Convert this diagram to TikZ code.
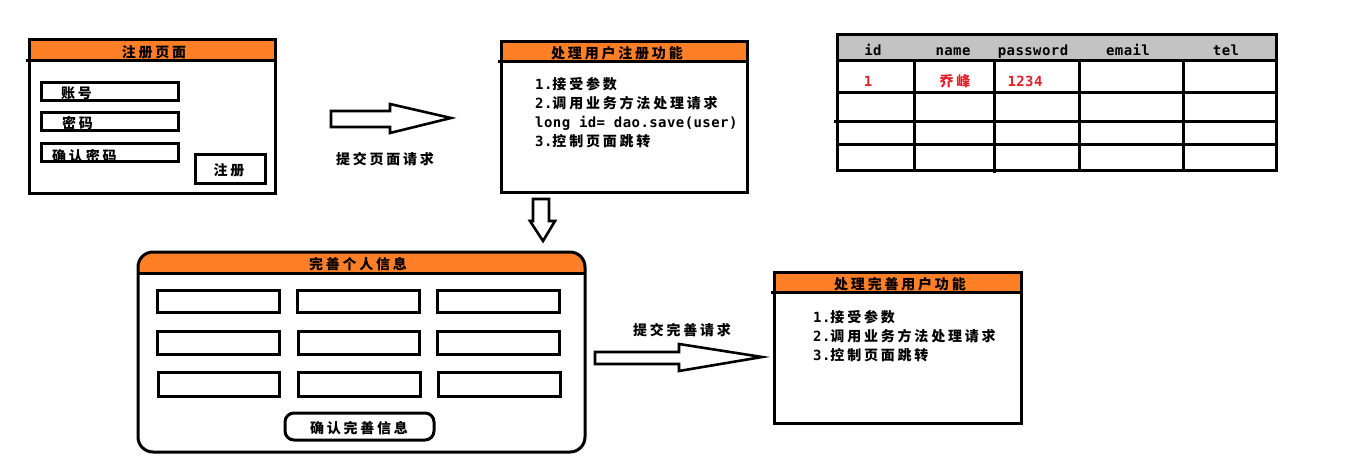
\documentclass[tikz,border=0pt]{standalone}
\usepackage{fontspec}
\setmainfont{Liberation Sans}
\newfontfamily\cjkfont[LetterSpace=20]{Noto Sans CJK SC}
\newfontfamily\latfont[LetterSpace=3]{DejaVu Sans Mono}
\newcommand\zhtxt[1]{{\cjkfont\bfseries #1}}
\newcommand\latxt[1]{{\latfont\bfseries #1}}
\definecolor{hdrorange}{RGB}{255,127,39}
\definecolor{hdrgray}{RGB}{195,195,195}
\definecolor{redtxt}{RGB}{230,30,40}
\begin{document}
\begin{tikzpicture}[x=1pt,y=-1pt,
  thick3/.style={draw=black,line width=3pt},
  hdr/.style={fill=hdrorange},
  txt/.style={inner sep=0pt,text height=16pt,text depth=3pt,font=\fontsize{14}{16}\selectfont},
  ltxt/.style={txt,anchor=west},
  blockarrow/.style={draw=black,line width=2.6pt,fill=white,line join=miter}]
\useasboundingbox (0,0) rectangle (1360,476);

% ---------- Box 1: registration page ----------
\fill[hdr] (29,40) rectangle (275,61);
\draw[thick3] (29,40) rectangle (275,193);
\draw[thick3] (26,61) -- (275,61);
\node[txt] (t1) at (154,51) {\zhtxt{注册页面}};
\draw[thick3] (41,83) rectangle (178,101);
\draw[thick3] (41,113) rectangle (178,131);
\draw[thick3] (41,144) rectangle (178,162);
\draw[thick3] (195,155) rectangle (265,183);
\node[ltxt] (f1) at (61,92) {\zhtxt{账号}};
\node[ltxt] (f2) at (62,122) {\zhtxt{密码}};
\node[ltxt] (f3) at (52,155) {\zhtxt{确认密码}};
\node[txt] (b1) at (229,169) {\zhtxt{注册}};

% ---------- Arrow 1 ----------
\coordinate (a1s) at (331,119);
\coordinate (a1t) at (451,118);
\draw[blockarrow] (331,111) -- (390,111) -- (390,104) -- (a1t) -- (390,133) -- (390,127) -- (331,127) -- cycle;
\node[txt] (a1l) at (385,158) {\zhtxt{提交页面请求}};

% ---------- Box 2 ----------
\fill[hdr] (501,42) rectangle (747,62);
\draw[thick3] (501,42) rectangle (747,192);
\draw[thick3] (498,62) -- (747,62);
\node[txt] (t2) at (617,52) {\zhtxt{处理用户注册功能}};
\node[ltxt] (l21) at (535,83) {\latxt{1.}\zhtxt{接受参数}};
\node[ltxt] (l22) at (535,102) {\latxt{2.}\zhtxt{调用业务方法处理请求}};
\node[ltxt] (l23) at (535,121) {\latxt{long id= dao.save(user)}};
\node[ltxt] (l24) at (535,140) {\latxt{3.}\zhtxt{控制页面跳转}};

% ---------- Down arrow ----------
\coordinate (dtip) at (543,241);
\draw[blockarrow] (533,199) -- (549,199) -- (549,221) -- (555,221) -- (dtip) -- (530,221) -- (533,221) -- cycle;

% ---------- Table ----------
\fill[hdrgray] (837,35) rectangle (1276,61);
\draw[thick3] (837,35) rectangle (1276,170);
\foreach \yy in {61,93,145} \draw[thick3] (837,\yy) -- (1276,\yy);
\draw[thick3] (834,122) -- (1276,122);
\foreach \xx in {914,1079,1183} \draw[thick3] (\xx,61) -- (\xx,170);
\draw[thick3] (994,61) -- (994,173);
\node[txt] (h1) at (873,49) {\latxt{id}};
\node[txt] (h2) at (953,49) {\latxt{name}};
\node[txt] (h3) at (1033,49) {\latxt{password}};
\node[txt] (h4) at (1128,49) {\latxt{email}};
\node[txt] (h5) at (1226,49) {\latxt{tel}};
\node[txt,text=redtxt] (r1) at (868,80) {\latxt{1}};
\node[txt,text=redtxt] (r2) at (955,80) {\zhtxt{乔峰}};
\node[txt,text=redtxt] (r3) at (1025,80) {\latxt{1234}};

% ---------- Box 3 (rounded) ----------
\begin{scope}
\clip[rounded corners=15pt] (138,252) rectangle (585,452);
\fill[hdr] (138,252) rectangle (585,273);
\end{scope}
\draw[thick3,rounded corners=15pt] (138,252) rectangle (585,452);
\draw[thick3] (138,273) -- (585,273);
\node[txt] (t3) at (358,263) {\zhtxt{完善个人信息}};
\draw[thick3] (157,290) rectangle (279,312);
\draw[thick3] (297,290) rectangle (419,312);
\draw[thick3] (437,290) rectangle (559,312);
\draw[thick3] (157,331) rectangle (279,354);
\draw[thick3] (298,331) rectangle (419,354);
\draw[thick3] (437,331) rectangle (559,354);
\draw[thick3] (158,372) rectangle (279,396);
\draw[thick3] (298,372) rectangle (420,396);
\draw[thick3] (438,372) rectangle (560,396);
\draw[thick3,rounded corners=9pt] (285,413) rectangle (434,440);
\node[txt] (b3) at (359,427) {\zhtxt{确认完善信息}};

% ---------- Arrow 2 ----------
\coordinate (a2t) at (762,357);
\draw[blockarrow] (595,352) -- (679,352) -- (679,344) -- (a2t) -- (679,371) -- (679,364) -- (595,364) -- cycle;
\node[txt] (a2l) at (682,329) {\zhtxt{提交完善请求}};

% ---------- Box 4 ----------
\fill[hdr] (774,272) rectangle (1021,292);
\draw[thick3] (774,272) rectangle (1021,423);
\draw[thick3] (771,292) -- (1021,292);
\node[txt] (t4) at (900,283) {\zhtxt{处理完善用户功能}};
\node[ltxt] (l41) at (813,316) {\latxt{1.}\zhtxt{接受参数}};
\node[ltxt] (l42) at (813,335) {\latxt{2.}\zhtxt{调用业务方法处理请求}};
\node[ltxt] (l43) at (813,354) {\latxt{3.}\zhtxt{控制页面跳转}};
\end{tikzpicture}
\end{document}
